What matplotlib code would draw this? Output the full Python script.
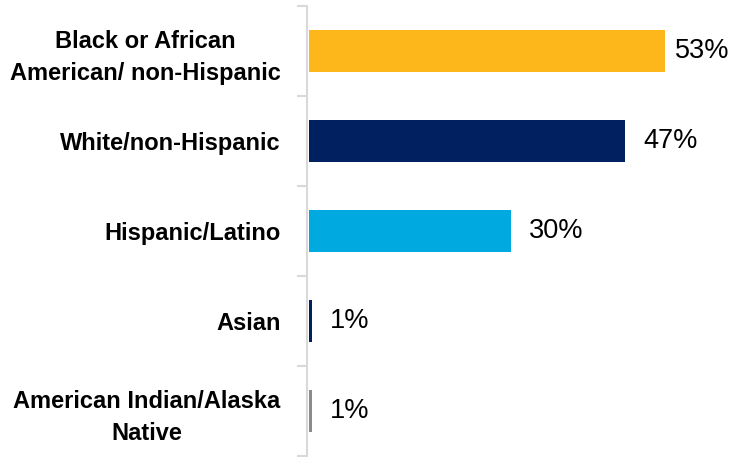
import matplotlib
matplotlib.use("Agg")
import matplotlib.pyplot as plt
import numpy as np

categories = [
    "Black or African\nAmerican/ non-Hispanic",
    "White/non-Hispanic",
    "Hispanic/Latino",
    "Asian",
    "American Indian/Alaska\nNative",
]
values = [53, 47, 30, 0.45, 0.45]
value_labels = ["53%", "47%", "30%", "1%", "1%"]
colors = ["#FDB71A", "#002060", "#00A9E0", "#002060", "#8C8C8C"]

plt.rcParams["font.family"] = ["Liberation Sans", "DejaVu Sans"]

fig = plt.figure(figsize=(7.33, 4.57), dpi=100)
ax = fig.add_axes([307 / 733, 1 / 457, 1 - 307 / 733, 450 / 457])

y = np.arange(len(categories))
ax.barh(y, values, height=0.46, color=colors)
ax.set_ylim(len(categories) - 0.5, -0.5)
xmax = 426 / 6.72 - 0.3
ax.set_xlim(-0.3, xmax)

# étiquettes de valeur, recalées à gauche si elles sortent du cadre
for yi, v, lab in zip(y, values, value_labels):
    ax.text(min(v + 2.7, xmax - 8.6), yi, lab, va="center", ha="left",
            fontsize=19.5, color="#000000")

ax.set_yticks(y)
ax.set_yticklabels(categories, fontsize=17, fontweight="bold",
                   ha="right", multialignment="center", linespacing=1.45)
ax.tick_params(axis="y", which="major", length=0, pad=19)
ax.set_yticks(np.arange(len(categories) + 1) - 0.5, minor=True)
ax.tick_params(axis="y", which="minor", length=7, width=1.5, color="#D9D9D9")

ax.set_xticks([])
for side in ["top", "right", "bottom"]:
    ax.spines[side].set_visible(False)
ax.spines["left"].set_color("#D9D9D9")
ax.spines["left"].set_linewidth(1.5)

fig.savefig("out.png", dpi=100)
